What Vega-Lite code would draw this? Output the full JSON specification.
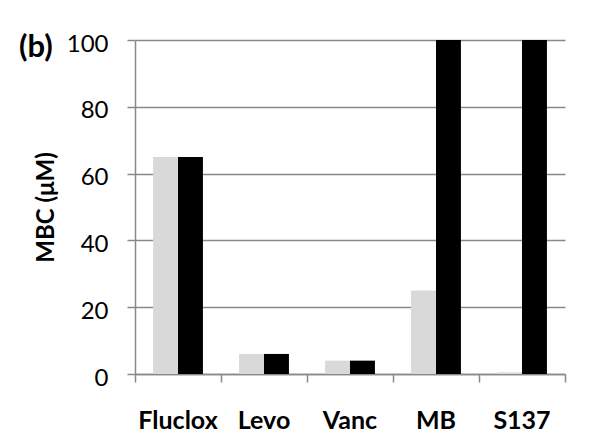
{
  "$schema": "https://vega.github.io/schema/vega-lite/v6.json",
  "autosize": "none",
  "width": 430,
  "height": 334,
  "padding": {"left": 135, "top": 40, "right": 27, "bottom": 66},
  "background": "white",
  "title": {
    "text": "(b)",
    "anchor": "start",
    "frame": "group",
    "orient": "top",
    "offset": 0,
    "dx": -116,
    "dy": 56,
    "baseline": "alphabetic",
    "font": "Lato",
    "fontSize": 31,
    "fontWeight": "bold",
    "color": "black"
  },
  "config": {
    "view": {"stroke": null},
    "axis": {
      "gridColor": "#898989",
      "gridWidth": 1.5,
      "domainColor": "#898989",
      "domainWidth": 1.5,
      "tickColor": "#898989",
      "tickWidth": 1.5
    }
  },
  "resolve": {"scale": {"x": "independent"}, "axis": {"x": "independent"}},
  "layer": [
    {
      "data": {
        "values": [
          {"drug": "Fluclox", "series": "s1", "mbc": 65},
          {"drug": "Fluclox", "series": "s2", "mbc": 65},
          {"drug": "Levo", "series": "s1", "mbc": 6},
          {"drug": "Levo", "series": "s2", "mbc": 6},
          {"drug": "Vanc", "series": "s1", "mbc": 4},
          {"drug": "Vanc", "series": "s2", "mbc": 4},
          {"drug": "MB", "series": "s1", "mbc": 25},
          {"drug": "MB", "series": "s2", "mbc": 100},
          {"drug": "S137", "series": "s1", "mbc": 0.5},
          {"drug": "S137", "series": "s2", "mbc": 100}
        ]
      },
      "mark": {"type": "bar"},
      "encoding": {
        "x": {
          "field": "drug",
          "type": "nominal",
          "sort": ["Fluclox", "Levo", "Vanc", "MB", "S137"],
          "scale": {"paddingInner": 0.42, "paddingOuter": 0.21},
          "axis": {
            "title": null,
            "labelAngle": 0,
            "labelFont": "Lato",
            "labelFontSize": 25,
            "labelFontWeight": "bold",
            "labelColor": "black",
            "ticks": false,
            "domain": false,
            "labelPadding": 34
          }
        },
        "xOffset": {"field": "series", "type": "nominal", "scale": {"paddingInner": 0, "paddingOuter": 0}},
        "y": {
          "field": "mbc",
          "type": "quantitative",
          "scale": {"domain": [0, 100], "nice": false},
          "axis": {
            "values": [0, 20, 40, 60, 80, 100],
            "title": "MBC (μM)",
            "grid": true,
            "tickSize": 8,
            "labelPadding": 19,
            "labelFont": "Lato",
            "labelFontSize": 24,
            "labelColor": "black",
            "labelOffset": 4,
            "titleFont": "Lato",
            "titleFontSize": 24,
            "titleFontWeight": "bold",
            "titleColor": "black",
            "titlePadding": 8
          }
        },
        "color": {
          "field": "series",
          "type": "nominal",
          "scale": {"domain": ["s1", "s2"], "range": ["#d9d9d9", "#000000"]},
          "legend": null
        }
      }
    },
    {
      "data": {"values": [{"edge": 0}, {"edge": 1}, {"edge": 2}, {"edge": 3}, {"edge": 4}, {"edge": 5}]},
      "mark": {"type": "rule", "opacity": 0},
      "encoding": {
        "x": {
          "field": "edge",
          "type": "quantitative",
          "scale": {"domain": [0, 5], "nice": false, "zero": false},
          "axis": {
            "orient": "bottom",
            "title": null,
            "values": [0, 1, 2, 3, 4, 5],
            "labels": false,
            "grid": false,
            "domain": true,
            "ticks": true,
            "tickSize": 8
          }
        }
      }
    }
  ]
}
